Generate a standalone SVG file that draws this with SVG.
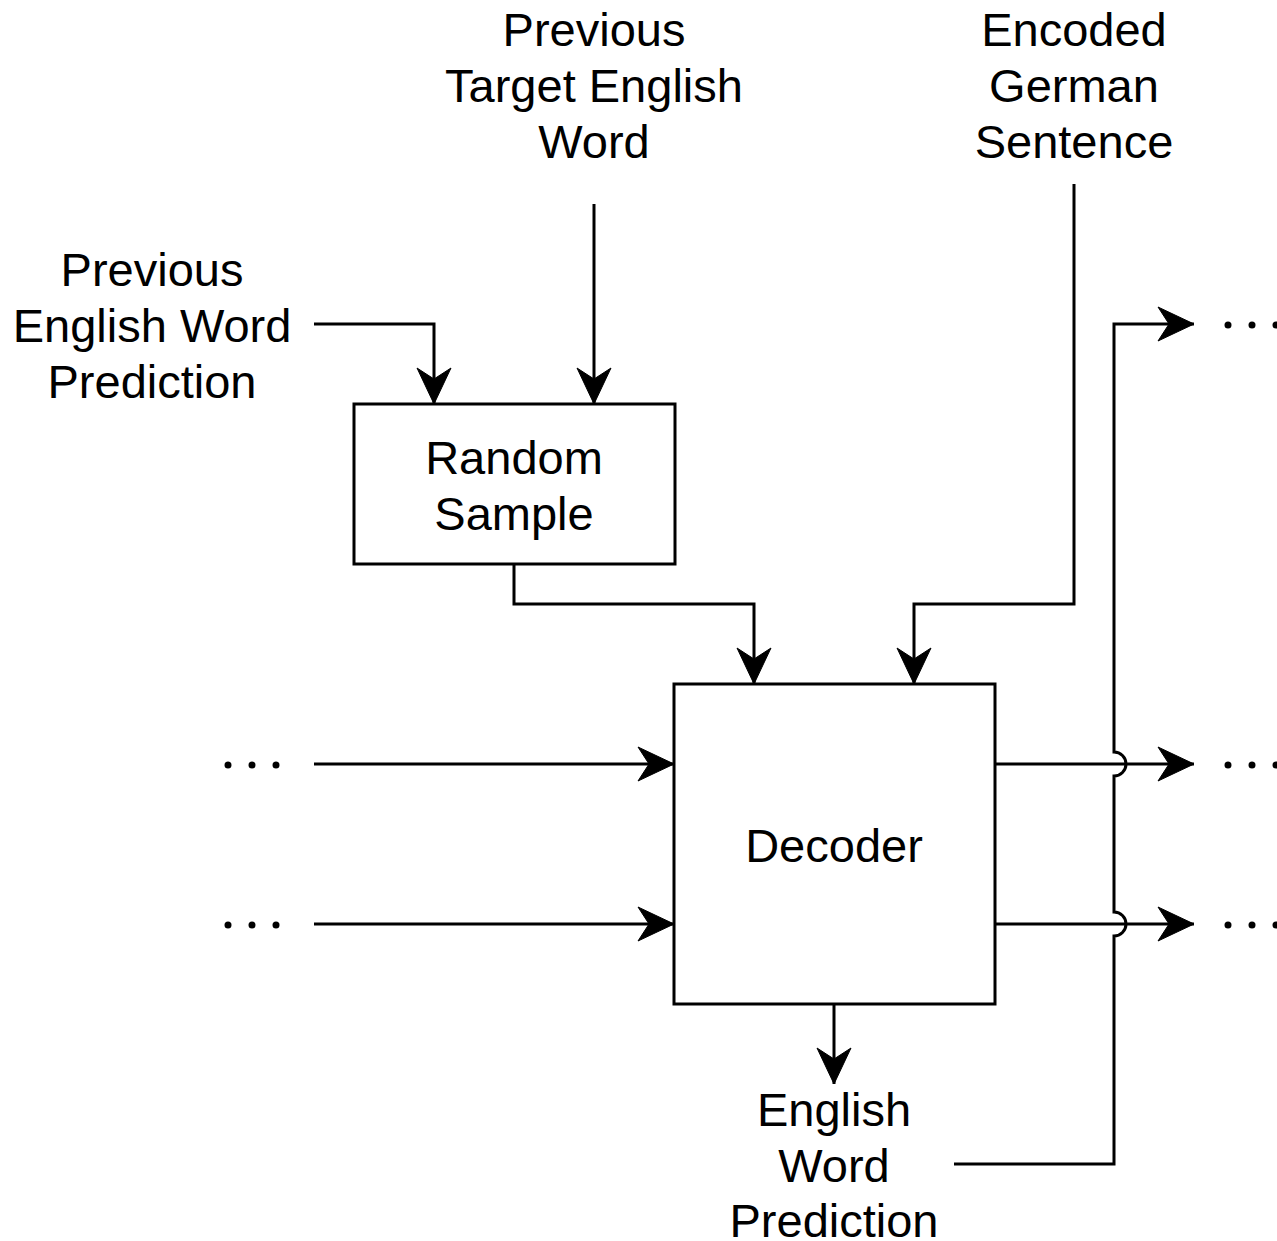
<svg xmlns="http://www.w3.org/2000/svg" width="1277" height="1241" viewBox="0 0 1277 1241">
<style>
.box{fill:#fff;stroke:#000;stroke-width:3}
.edge{fill:none;stroke:#000;stroke-width:3;marker-end:url(#arrow)}
text{font-family:"Liberation Sans",Arial,sans-serif;font-size:47px;fill:#000;text-anchor:middle}
.dot{fill:#000}
</style>
<defs>
<marker id="arrow" viewBox="-40 -20 42 40" refX="0" refY="0" markerWidth="42" markerHeight="40" markerUnits="userSpaceOnUse" orient="auto">
<path d="M0,0 L-36,-17 L-25,0 L-36,17 Z" fill="#000" stroke="#000" stroke-width="1"/>
</marker>
</defs>
<rect width="1277" height="1241" fill="#fff"/>
<g id="connectors">
<path class="edge" d="M314,324 H434 V404"/>
<path class="edge" d="M594,204 V404"/>
<path class="edge" d="M514,564 V604 H754 V684"/>
<path class="edge" d="M1074,184 V604 H914 V684"/>
<path class="edge" d="M314,764 H674"/>
<path class="edge" d="M314,924 H674"/>
<path class="edge" d="M995,764 H1194"/>
<path class="edge" d="M995,924 H1194"/>
<path class="edge" d="M834,1004 V1084"/>
<path class="edge" d="M954,1164 H1114 V936 A12,12 0 0 0 1114,912 V776 A12,12 0 0 0 1114,752 V324 H1194"/>
</g>
<g id="random-sample">
<rect class="box" x="354" y="404" width="321" height="160"/>
<text x="514" y="474">Random</text>
<text x="514" y="530">Sample</text>
</g>
<g id="decoder">
<rect class="box" x="674" y="684" width="321" height="320"/>
<text x="834" y="862">Decoder</text>
</g>
<g id="prev-target">
<text x="594" y="46">Previous</text>
<text x="594" y="102">Target English</text>
<text x="594" y="158">Word</text>
</g>
<g id="encoded-german">
<text x="1074" y="46">Encoded</text>
<text x="1074" y="102">German</text>
<text x="1074" y="158">Sentence</text>
</g>
<g id="prev-prediction">
<text x="152" y="286">Previous</text>
<text x="152" y="342">English Word</text>
<text x="152" y="398">Prediction</text>
</g>
<g id="word-prediction">
<text x="834" y="1126">English</text>
<text x="834" y="1182">Word</text>
<text x="834" y="1237">Prediction</text>
</g>
<g id="dots-left-1"><circle class="dot" cx="228" cy="765" r="3.5"/><circle class="dot" cx="252" cy="765" r="3.5"/><circle class="dot" cx="276" cy="765" r="3.5"/></g>
<g id="dots-left-2"><circle class="dot" cx="228" cy="925" r="3.5"/><circle class="dot" cx="252" cy="925" r="3.5"/><circle class="dot" cx="276" cy="925" r="3.5"/></g>
<g id="dots-right-0"><circle class="dot" cx="1228" cy="325" r="3.5"/><circle class="dot" cx="1252" cy="325" r="3.5"/><circle class="dot" cx="1276" cy="325" r="3.5"/></g>
<g id="dots-right-1"><circle class="dot" cx="1228" cy="765" r="3.5"/><circle class="dot" cx="1252" cy="765" r="3.5"/><circle class="dot" cx="1276" cy="765" r="3.5"/></g>
<g id="dots-right-2"><circle class="dot" cx="1228" cy="925" r="3.5"/><circle class="dot" cx="1252" cy="925" r="3.5"/><circle class="dot" cx="1276" cy="925" r="3.5"/></g>
</svg>
